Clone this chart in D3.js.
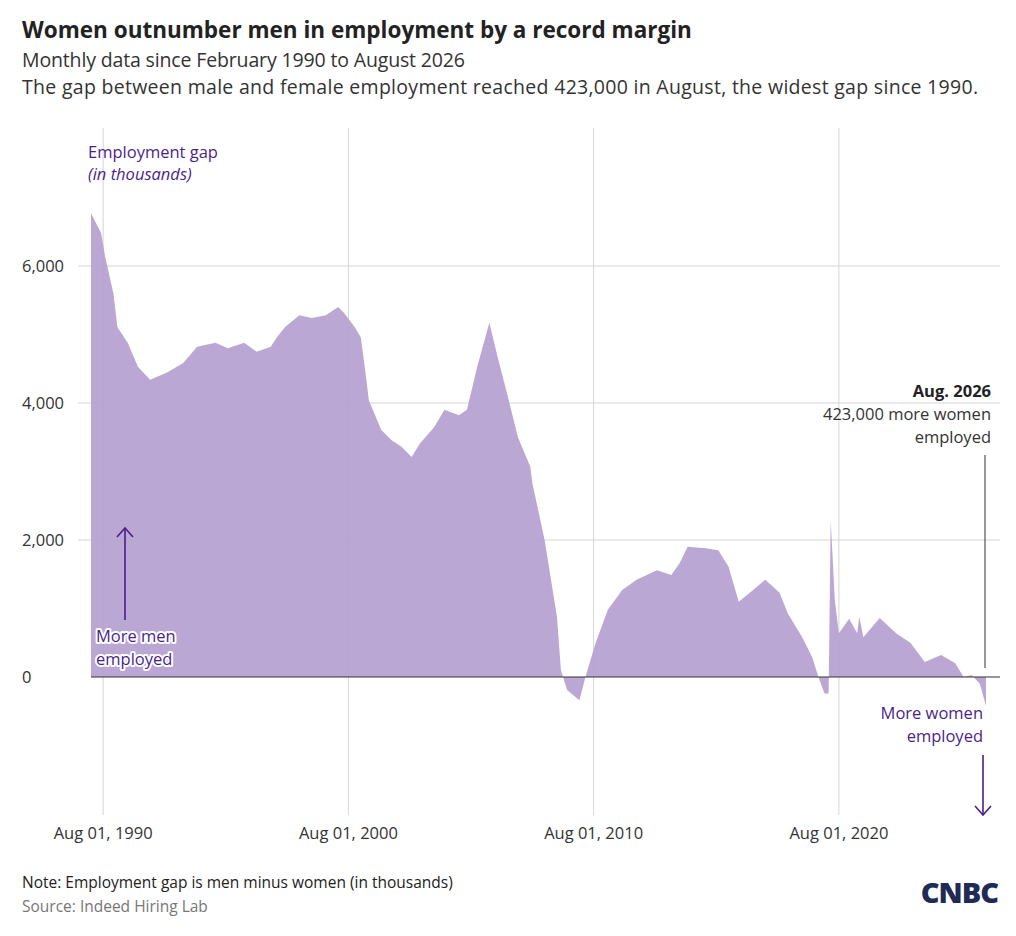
<!DOCTYPE html>
<html><head><meta charset="utf-8">
<script src="https://cdn.jsdelivr.net/npm/d3@7"></script>
<style>body{margin:0;background:#fff;font-family:"Open Sans",sans-serif;}</style>
</head><body>
<svg id="c" width="1016" height="936"></svg>
<script>
const dates = ["1990-02","1990-07","1990-09","1991-01","1991-03","1991-08","1992-01","1992-07","1993-03","1993-11","1994-06","1995-03","1995-09","1996-05","1996-11","1997-06","1997-09","1998-01","1998-08","1999-02","1999-09","2000-03","2000-06","2000-11","2001-02","2001-04","2001-06","2001-12","2002-05","2002-10","2003-03","2003-07","2004-02","2004-07","2005-02","2005-06","2005-08","2005-11","2006-05","2006-09","2007-02","2007-07","2008-01","2008-02","2008-08","2009-02","2009-04","2009-07","2010-01","2010-04","2010-09","2011-03","2011-10","2012-05","2013-03","2013-10","2014-02","2014-06","2015-03","2015-09","2016-02","2016-07","2017-02","2017-08","2018-03","2018-07","2019-02","2019-07","2019-10","2020-01","2020-03","2020-04","2020-06","2020-08","2021-01","2021-05","2021-06","2021-08","2022-04","2022-12","2023-07","2024-02","2024-10","2025-05","2025-09","2026-01","2026-05","2026-08"];
const gap = [6770,6480,6130,5600,5110,4880,4530,4340,4440,4580,4820,4880,4800,4880,4750,4820,4960,5110,5280,5240,5280,5400,5310,5110,4960,4530,4040,3610,3460,3360,3210,3410,3650,3900,3820,3900,4150,4530,5170,4670,4090,3500,3070,2830,2000,880,100,-190,-340,0,500,980,1270,1420,1560,1490,1660,1900,1880,1850,1610,1100,1270,1420,1230,930,580,290,0,-240,-240,2290,1120,640,850,640,880,580,860,640,500,220,320,200,0,30,-100,-423];
const yTicks = [0,2000,4000,6000];
const xTicks = ["1990-08","2000-08","2010-08","2020-08"];

const parse = d3.timeParse("%Y-%m");
const data = dates.map((d,i)=>({t:parse(d),v:gap[i]}));
const svg = d3.select("#c");
const x = d3.scaleTime().domain([parse("1990-02"),parse("2026-08")]).range([91,986]);
const y = d3.scaleLinear().domain([0,6000]).range([677,266]);
const purple="#4b1f8a";
const fs=16.5;

svg.append("text").attr("x",22).attr("y",38).attr("font-size",22.5).attr("font-weight",700).attr("fill","#222").text("Women outnumber men in employment by a record margin");
svg.append("text").attr("x",22).attr("y",67).attr("font-size",19.5).attr("fill","#333").attr("textLength",443).text("Monthly data since February 1990 to August 2026");
svg.append("text").attr("x",22).attr("y",94).attr("font-size",19.5).attr("fill","#333").attr("textLength",956).text("The gap between male and female employment reached 423,000 in August, the widest gap since 1990.");

svg.selectAll(".vg").data(xTicks).join("line").attr("x1",d=>x(parse(d))).attr("x2",d=>x(parse(d))).attr("y1",128).attr("y2",815).attr("stroke","#d6d6d6");
svg.selectAll(".hg").data(yTicks.filter(d=>d!==0)).join("line").attr("x1",78).attr("x2",1000).attr("y1",d=>y(d)).attr("y2",d=>y(d)).attr("stroke","#d6d6d6");
svg.selectAll(".yl").data(yTicks).join("text").attr("x",22).attr("y",d=>y(d)+6).attr("font-size",fs).attr("fill","#333").text(d3.format(","));
svg.selectAll(".xl").data(xTicks).join("text").attr("x",d=>x(parse(d))).attr("y",839).attr("text-anchor","middle").attr("font-size",fs).attr("fill","#333").text(d=>d3.timeFormat("%b %d, %Y")(parse(d)));

svg.append("path").datum(data).attr("fill","#b59fcf").attr("fill-opacity",0.92)
  .attr("d",d3.area().x(d=>x(d.t)).y0(y(0)).y1(d=>y(d.v)));
svg.append("line").attr("x1",91).attr("x2",1000).attr("y1",y(0)).attr("y2",y(0)).attr("stroke","#333").attr("stroke-width",1.2);

svg.append("text").attr("x",88).attr("y",158).attr("font-size",fs).attr("fill",purple).text("Employment gap");
svg.append("text").attr("x",88).attr("y",180).attr("font-size",fs).attr("font-style","italic").attr("fill",purple).text("(in thousands)");

function arrow(x0,y1,y2){
  svg.append("line").attr("x1",x0).attr("x2",x0).attr("y1",y1).attr("y2",y2).attr("stroke",purple).attr("stroke-width",1.6);
  const dir = y2<y1?1:-1;
  svg.append("path").attr("d",`M${x0-8},${y2+dir*9}L${x0},${y2}L${x0+8},${y2+dir*9}`).attr("fill","none").attr("stroke",purple).attr("stroke-width",1.6);
}
arrow(125,620,528);
arrow(983,755,815);
const halo = sel=>sel.attr("stroke","#fff").attr("stroke-width",4).attr("paint-order","stroke").attr("stroke-linejoin","round");
[["More men",642],["employed",665]].forEach(([t,yy])=>svg.append("text").attr("x",96).attr("y",yy).attr("font-size",fs).attr("fill",purple).text(t).call(halo));
[["More women",719],["employed",742]].forEach(([t,yy])=>svg.append("text").attr("x",983).attr("y",yy).attr("text-anchor","end").attr("font-size",fs).attr("fill",purple).text(t).call(halo));

svg.append("text").attr("x",991).attr("y",397).attr("text-anchor","end").attr("font-size",fs).attr("font-weight",700).attr("fill","#222").text("Aug. 2026");
svg.append("text").attr("x",991).attr("y",420).attr("text-anchor","end").attr("font-size",fs).attr("fill","#333").text("423,000 more women");
svg.append("text").attr("x",991).attr("y",443).attr("text-anchor","end").attr("font-size",fs).attr("fill","#333").text("employed");
svg.append("line").attr("x1",985).attr("x2",985).attr("y1",455).attr("y2",668).attr("stroke","#333");

svg.append("text").attr("x",22).attr("y",888).attr("font-size",15.5).attr("fill","#222").text("Note: Employment gap is men minus women (in thousands)");
svg.append("text").attr("x",22).attr("y",912).attr("font-size",15.5).attr("fill","#777").text("Source: Indeed Hiring Lab");
svg.append("text").attr("x",998).attr("y",903).attr("text-anchor","end").attr("font-size",29).attr("font-weight",800).attr("fill","#1f2a55").attr("letter-spacing",-1).text("CNBC");
</script></body></html>
